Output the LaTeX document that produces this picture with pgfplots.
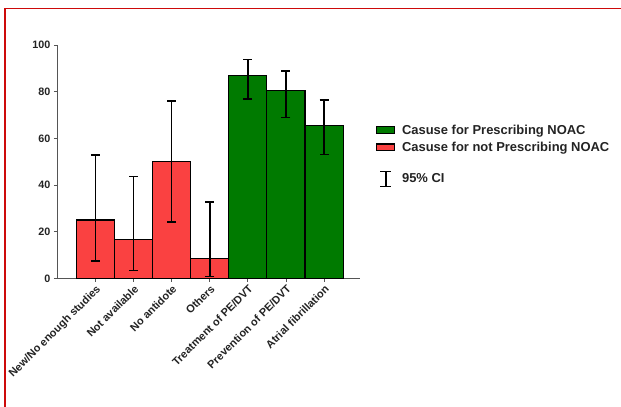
\documentclass[border=0pt]{standalone}
\usepackage{pgfplots}
\pgfplotsset{compat=1.18}
\usepackage{pgfplotstable}
\usepackage{fontspec}
\setmainfont{Liberation Sans}

\definecolor{barred}{RGB}{250,65,65}
\definecolor{bargreen}{RGB}{0,122,0}
\definecolor{axisgray}{RGB}{85,85,85}
\definecolor{framered}{RGB}{205,10,10}
\definecolor{txt}{RGB}{35,35,35}

% causes against prescribing: value, upper and lower CI distance
\pgfplotstableread{
x y ep em
0 25.0 27.8 17.5
1 16.7 27.0 13.3
2 50.0 25.9 25.9
3 8.3 24.4 7.6
}\notdata
% causes for prescribing
\pgfplotstableread{
x y ep em
4 87.0 6.7 10.2
5 80.4 8.4 11.4
6 65.6 10.9 12.6
}\yesdata

\begin{document}
\begin{tikzpicture}
\useasboundingbox (0,0) rectangle (621bp,407bp);
\draw[framered, line width=1.4bp] (5bp,0) -- (5bp,398.3bp) -- (621bp,398.3bp);
\begin{axis}[
    at={(57.3bp,128.7bp)}, anchor=south west,
    scale only axis, width=303bp, height=233.3bp,
    ybar, bar width=1, bar shift=0pt,
    xmin=-1, xmax=6.95, ymin=0, ymax=100,
    ytick={0,20,...,100},
    xtick={0,...,6},
    xticklabels={New/No enough studies,Not available,No antidote,Others,Treatment of PE/DVT,Prevention of PE/DVT,Atrial fibrillation},
    axis x line*=bottom, axis y line*=left,
    axis line style={axisgray, line width=0.8bp, -},
    tick style={axisgray, line width=0.8bp},
    tick align=outside, major tick length=3.5bp,
    /pgf/number format/assume math mode=true,
    y tick label style={font=\bfseries\fontsize{10.8}{12}\selectfont, text=txt},
    x tick label style={rotate=45, anchor=north east, inner sep=1.5bp, font=\bfseries\fontsize{11}{12}\selectfont, text=txt},
    legend style={at={(1.052,0.668)}, anchor=north west, draw=none, fill=none,
        inner sep=0pt, row sep=2.5bp, column sep=5bp, font=\bfseries\fontsize{13}{15}\selectfont, text=txt},
    legend cell align=left,
    error bars/y dir=both, error bars/y explicit,
    error bars/error bar style={black, line width=1.5bp},
    error bars/error mark options={black, rotate=90, mark size=4.5bp, line width=1.5bp},
]
\addplot[fill=bargreen, draw=black, line width=1.1bp,
    legend image code/.code={\draw[fill=bargreen, draw=black, line width=1.1bp] (0bp,-3.4bp) rectangle (17.7bp,3.4bp);}]
    table[x=x, y=y, y error plus=ep, y error minus=em] {\yesdata};
\addlegendentry{Casuse for Prescribing NOAC}
\addplot[fill=barred, draw=black, line width=1.1bp,
    legend image code/.code={\draw[fill=barred, draw=black, line width=1.1bp] (0bp,-3.4bp) rectangle (17.7bp,3.4bp);}]
    table[x=x, y=y, y error plus=ep, y error minus=em] {\notdata};
\addlegendentry{Casuse for not Prescribing NOAC}
\addlegendimage{legend image code/.code={
    \path (9bp,21.5bp);
    \draw[black, line width=1.8bp] (9bp,-7.5bp) -- (9bp,7.5bp);
    \draw[black, line width=1.8bp] (3.5bp,7.5bp) -- (14.5bp,7.5bp);
    \draw[black, line width=1.8bp] (3.5bp,-7.5bp) -- (14.5bp,-7.5bp);}}
\addlegendentry{95\% CI}
\end{axis}
\end{tikzpicture}
\end{document}
